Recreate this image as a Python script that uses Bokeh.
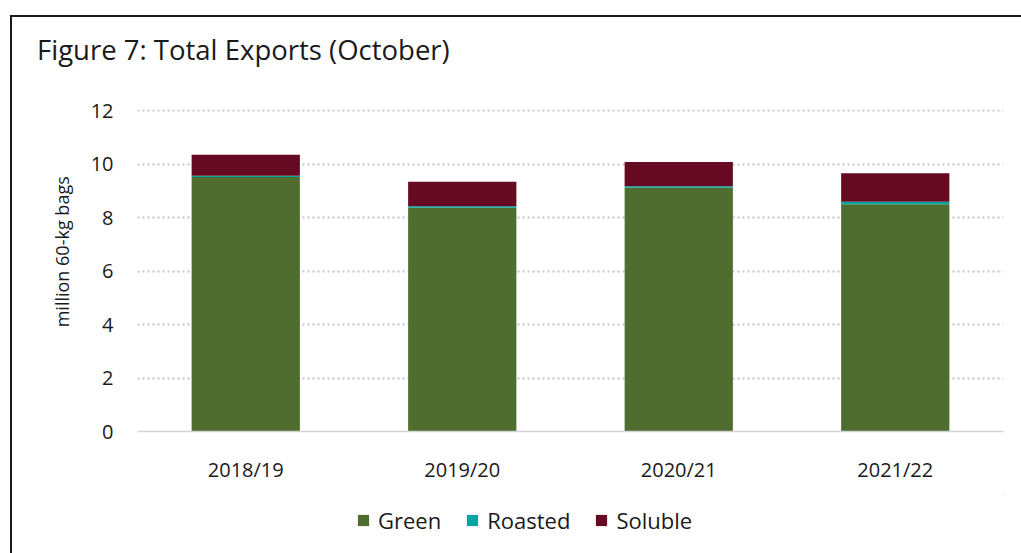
from bokeh.plotting import figure
from bokeh.layouts import column
from bokeh.embed import file_html
from bokeh.resources import INLINE
from bokeh.models import Legend, LegendItem, ColumnDataSource, FixedTicker, Range1d, Div

seasons = ["2018/19", "2019/20", "2020/21", "2021/22"]
green = [9.52, 8.37, 9.12, 8.50]
roasted = [0.05, 0.06, 0.06, 0.10]
soluble = [0.79, 0.92, 0.91, 1.06]
series = ["Green", "Roasted", "Soluble"]
colors = ["#4f6d2f", "#00a6a2", "#650a22"]
y_ticks = [0, 2, 4, 6, 8, 10, 12]
title_text = "Figure 7: Total Exports (October)"
y_label = "million 60-kg bags"

FONT = "Open Sans"
TXT = "#1a1a1a"

title = Div(text=title_text, width=984, height=53, margin=(17, 0, 0, 25),
            styles={"font-family": FONT, "font-size": "27.5px", "color": TXT,
                    "line-height": "32px", "white-space": "nowrap"})

src = ColumnDataSource(dict(season=seasons, Green=green, Roasted=roasted, Soluble=soluble))

p = figure(x_range=seasons, y_range=(0, 12.05), width=1009, height=408,
           output_backend="svg", toolbar_location=None,
           min_border_left=125, min_border_right=18, min_border_top=22, min_border_bottom=64)

p.vbar_stack(series, x="season", width=0.5, source=src, color=colors, line_color=None)

p.outline_line_color = None
p.xgrid.grid_line_color = None
p.ygrid.grid_line_color = "#c4c4c4"
p.ygrid.grid_line_width = 2
p.ygrid.grid_line_dash = "2 3"
p.yaxis.ticker = FixedTicker(ticks=y_ticks)

p.yaxis.axis_line_color = None
p.yaxis.major_tick_line_color = None
p.yaxis.minor_tick_line_color = None
p.yaxis.major_label_text_font = FONT
p.yaxis.major_label_text_font_size = "20px"
p.yaxis.major_label_text_color = TXT
p.yaxis.major_label_standoff = 18
p.yaxis.axis_label = "\u00a0" * 8 + y_label
p.yaxis.axis_label_text_font = FONT
p.yaxis.axis_label_text_font_size = "18px"
p.yaxis.axis_label_text_font_style = "normal"
p.yaxis.axis_label_text_color = TXT
p.yaxis.axis_label_standoff = 14

p.xaxis.axis_line_color = "#d4d4d4"
p.xaxis.axis_line_width = 1.5
p.xaxis.major_tick_line_color = None
p.xaxis.minor_tick_line_color = None
p.xaxis.major_label_text_font = FONT
p.xaxis.major_label_text_font_size = "20px"
p.xaxis.major_label_text_color = TXT
p.xaxis.major_label_standoff = 18

# legend strip below the chart (legend-only renderers kept far outside the view)
pl = figure(width=1009, height=58, x_range=Range1d(0, 1), y_range=Range1d(0, 1),
            output_backend="svg", toolbar_location=None,
            x_axis_location=None, y_axis_location=None,
            min_border_left=0, min_border_right=0, min_border_top=0, min_border_bottom=0)
pl.outline_line_color = None
pl.xgrid.grid_line_color = None
pl.ygrid.grid_line_color = None
dummies = [pl.vbar(x=[50], top=[50], bottom=[40], width=0.1, fill_color=c, line_color=None)
           for c in colors]

legend = Legend(items=[LegendItem(label=s, renderers=[r]) for s, r in zip(series, dummies)],
                orientation="horizontal", location=(219, 18),
                label_text_font=FONT, label_text_font_size="22px", label_text_color=TXT,
                glyph_width=14, glyph_height=14, spacing=24, label_standoff=8,
                border_line_color=None, background_fill_alpha=0, margin=0, padding=0)
pl.add_layout(legend, "center")

layout = column(title, p, pl, margin=(15, 0, 0, 10), spacing=0,
                styles={"border-left": "2px solid #1a1a1a", "border-top": "2px solid #1a1a1a"})

open("out.html", "w").write(file_html(layout, INLINE))
